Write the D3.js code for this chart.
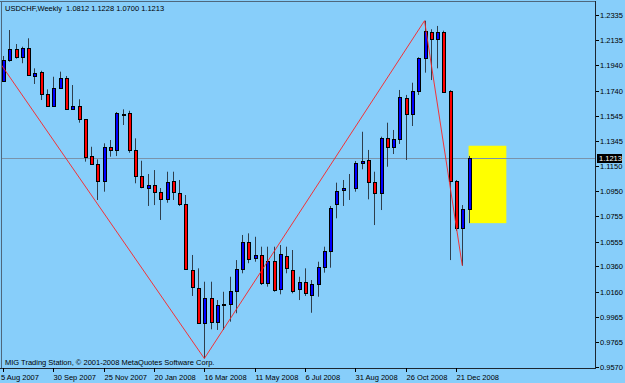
<!DOCTYPE html>
<html>
<head>
<meta charset="utf-8">
<script src="https://cdn.jsdelivr.net/npm/d3@7"></script>
<style>
  body { margin: 0; background: #87cefa; }
  svg text { font-family: "Liberation Sans", Arial, sans-serif; font-size: 7.5px; fill: #000; }
</style>
</head>
<body>
<div id="chart"></div>
<script>
///////////////////// Data ////////////////////////
var symbol = "USDCHF,Weekly";

// weekly bars, first one is the week of 5 Aug 2007
var opens  = [1.1819,1.1982,1.2066,1.2003,1.2073,1.1856,1.1890,1.1714,1.1620,1.1759,
              1.1838,1.1599,1.1620,1.1516,1.1227,1.1162,1.1033,1.1300,1.1275,1.1555,
              1.1563,1.1275,1.1070,1.0978,1.1000,1.0947,1.0892,1.1031,1.0934,1.0848,
              1.0332,1.0190,0.9918,1.0110,0.9921,1.0057,1.0062,1.0167,1.0340,1.0549,
              1.0424,1.0450,1.0232,1.0405,1.0180,1.0442,1.0332,1.0180,1.0240,1.0133,
              1.0222,1.0353,1.0481,1.0848,1.0960,1.0978,1.0978,1.1175,1.1196,1.1026,
              1.0939,1.1366,1.1300,1.1361,1.1681,1.1555,1.1738,1.1995,1.2204,1.2146,
              1.2204,1.1740,1.1033,1.0659,1.0812];
var highs  = [1.2013,1.2217,1.2107,1.2086,1.2152,1.1916,1.1897,1.1751,1.1850,1.1890,
              1.1856,1.1785,1.1673,1.1518,1.1300,1.1201,1.1327,1.1353,1.1573,1.1594,
              1.1583,1.1366,1.1190,1.1086,1.1117,1.0976,1.1104,1.1104,1.1039,1.0921,
              1.0450,1.0345,1.0240,1.0240,1.0096,1.0161,1.0279,1.0410,1.0607,1.0620,
              1.0593,1.0515,1.0515,1.0515,1.0528,1.0515,1.0489,1.0279,1.0345,1.0253,
              1.0397,1.0515,1.0835,1.1018,1.1039,1.1086,1.1188,1.1418,1.1275,1.1104,
              1.1379,1.1489,1.1432,1.1746,1.1707,1.1803,1.2003,1.2290,1.2223,1.2249,
              1.2212,1.1745,1.1039,1.0842,1.1228];
var lows   = [1.1817,1.1968,1.1992,1.1956,1.1856,1.1793,1.1667,1.1615,1.1615,1.1756,
              1.1589,1.1594,1.1489,1.1183,1.1157,1.0882,1.0947,1.1222,1.1227,1.1471,
              1.1253,1.1013,1.0974,1.0835,1.0842,1.0725,1.0860,1.0882,1.0835,1.0332,
              1.0128,0.9913,0.9637,0.9866,0.9861,0.9861,0.9926,0.9992,1.0306,1.0385,
              1.0397,1.0214,1.0201,1.0161,1.0141,1.0306,1.0149,1.0096,1.0128,0.9996,
              1.0122,1.0311,1.0350,1.0738,1.0835,1.0882,1.0947,1.1123,1.0887,1.0685,
              1.0803,1.1143,1.1243,1.1322,1.1196,1.1463,1.1707,1.1882,1.1824,1.1916,
              1.1730,1.0410,1.0640,1.0366,1.0700];
var closes = [1.1982,1.2066,1.2003,1.2073,1.1861,1.1882,1.1714,1.1620,1.1759,1.1838,
              1.1594,1.1620,1.1516,1.1222,1.1162,1.1033,1.1296,1.1275,1.1563,1.1551,
              1.1275,1.1070,1.0986,1.1000,1.0947,1.0890,1.1023,1.0941,1.0848,1.0337,
              1.0196,0.9918,1.0110,0.9926,1.0057,1.0061,1.0167,1.0340,1.0549,1.0416,
              1.0450,1.0232,1.0405,1.0175,1.0458,1.0345,1.0169,1.0240,1.0149,1.0220,
              1.0353,1.0481,1.0817,1.0956,1.0978,1.0976,1.1175,1.1188,1.1026,1.0939,
              1.1366,1.1300,1.1361,1.1693,1.1555,1.1738,1.1995,1.2209,1.2146,1.2204,
              1.1732,1.1033,1.0659,1.0812,1.1213];

// zigzag turning points (week index, price)
var zzIndex = [-2, 32, 67, 73];
var zzPrice = [1.2067, 0.9637, 1.2290, 1.0366];

// yellow rectangle (week index, price)
var boxIndex = [74, 80];
var boxPrice = [1.1308, 1.0700];

// axis labels
var xTickIndex = [0, 8, 16, 24, 32, 40, 48, 56, 64, 72];
var xTickLabels = ["5 Aug 2007","30 Sep 2007","25 Nov 2007","20 Jan 2008","16 Mar 2008",
                   "11 May 2008","6 Jul 2008","31 Aug 2008","26 Oct 2008","21 Dec 2008"];
var yTicks = ["1.2335","1.2135","1.1940","1.1740","1.1545","1.1345","1.1150","1.0950",
              "1.0755","1.0555","1.0360","1.0160","0.9965","0.9765","0.9570"];
var copyright = "MIG Trading Station, \u00a9 2001-2008 MetaQuotes Software Corp.";
//////////////////////////////////////////////////////////

var width = 625, height = 383;
var plotRight = 595, plotBottom = 368;

var x = d3.scaleLinear().domain([0, 72]).range([3, 456]);
var y = d3.scaleLinear().domain([0.9570, 1.2335]).range([367, 15]);

var svg = d3.select("#chart").append("svg")
    .attr("width", width)
    .attr("height", height);

svg.append("rect").attr("width", width).attr("height", height).attr("fill", "#87cefa");

// clip to the plot area
svg.append("clipPath").attr("id", "plot")
  .append("rect").attr("x", 2).attr("y", 2).attr("width", plotRight - 2).attr("height", plotBottom - 2);

var g = svg.append("g").attr("clip-path", "url(#plot)");

// yellow box (behind bars)
g.append("rect")
    .attr("x", x(boxIndex[0]))
    .attr("y", y(boxPrice[0]))
    .attr("width", x(boxIndex[1]) - x(boxIndex[0]))
    .attr("height", y(boxPrice[1]) - y(boxPrice[0]))
    .attr("fill", "#ffff00");

// bid line
var last = closes[closes.length - 1];
var bidY = Math.round(y(last)) + 0.5;
g.append("line")
    .attr("x1", 2).attr("x2", plotRight)
    .attr("y1", bidY).attr("y2", bidY)
    .attr("stroke", "#7a93aa").attr("stroke-width", 1);

// candles
var bars = d3.range(opens.length).map(function (i) {
  return {i: i, o: opens[i], h: highs[i], l: lows[i], c: closes[i]};
});

var candle = g.selectAll("g.bar").data(bars).enter().append("g").attr("class", "bar");

candle.append("line")
    .attr("x1", function (d) { return Math.round(x(d.i)) + 0.5; })
    .attr("x2", function (d) { return Math.round(x(d.i)) + 0.5; })
    .attr("y1", function (d) { return y(d.h); })
    .attr("y2", function (d) { return y(d.l); })
    .attr("stroke", "#2e3e4c").attr("stroke-width", 1);

candle.append("rect")
    .attr("x", function (d) { return Math.round(x(d.i)) - 0.5; })
    .attr("y", function (d) { return Math.round(y(Math.max(d.o, d.c))) + 0.5; })
    .attr("width", 3)
    .attr("height", function (d) {
      return Math.max(0, Math.round(y(Math.min(d.o, d.c))) - Math.round(y(Math.max(d.o, d.c))));
    })
    .attr("fill", function (d) { return d.c > d.o ? "#0000ff" : (d.c < d.o ? "#ff0000" : "#000"); })
    .attr("stroke", "#000").attr("stroke-width", 1);

// zigzag
var zz = zzIndex.map(function (d, k) { return [x(d), y(zzPrice[k])]; });
g.append("path")
    .attr("d", d3.line()(zz))
    .attr("fill", "none")
    .attr("stroke", "#ff2020").attr("stroke-width", 0.9);

// frame
svg.append("line").attr("x1", 0).attr("x2", plotRight).attr("y1", 1.5).attr("y2", 1.5)
    .attr("stroke", "#4e677c");
svg.append("line").attr("x1", 1.5).attr("x2", 1.5).attr("y1", 1).attr("y2", plotBottom)
    .attr("stroke", "#4e677c");
svg.append("line").attr("x1", plotRight + 0.5).attr("x2", plotRight + 0.5).attr("y1", 1).attr("y2", plotBottom + 1)
    .attr("stroke", "#1c2630");
svg.append("line").attr("x1", 0).attr("x2", plotRight + 1).attr("y1", plotBottom + 0.5).attr("y2", plotBottom + 0.5)
    .attr("stroke", "#1c2630");

// price axis
var yAxis = svg.append("g");
yTicks.forEach(function (t) {
  var ty = Math.round(y(+t)) + 0.5;
  yAxis.append("line").attr("x1", plotRight + 1).attr("x2", plotRight + 4)
      .attr("y1", ty).attr("y2", ty).attr("stroke", "#000");
  yAxis.append("text").attr("x", 600).attr("y", ty + 2.7).text(t);
});

// current price label
yAxis.append("rect")
    .attr("x", 597).attr("y", bidY - 4.5)
    .attr("width", 25).attr("height", 9)
    .attr("fill", "#000");
yAxis.append("text")
    .attr("x", 599).attr("y", bidY + 2.7)
    .style("fill", "#fff")
    .text(d3.format(".4f")(last));

// time axis
var xAxis = svg.append("g");
xTickIndex.forEach(function (t, k) {
  var tx = Math.round(x(t)) + 0.5;
  xAxis.append("line").attr("x1", tx).attr("x2", tx)
      .attr("y1", plotBottom).attr("y2", plotBottom + 4).attr("stroke", "#000");
  xAxis.append("text").attr("x", k == 0 ? 1 : tx).attr("y", 379.5).text(xTickLabels[k]);
});

// header and footer text
var fmt = d3.format(".4f");
svg.append("text").attr("x", 5).attr("y", 11)
    .attr("xml:space", "preserve")
    .text(symbol + "  " + [opens, highs, lows, closes].map(function (a) { return fmt(a[a.length - 1]); }).join(" "));
svg.append("text").attr("x", 5).attr("y", 365).text(copyright);
</script>
</body>
</html>
